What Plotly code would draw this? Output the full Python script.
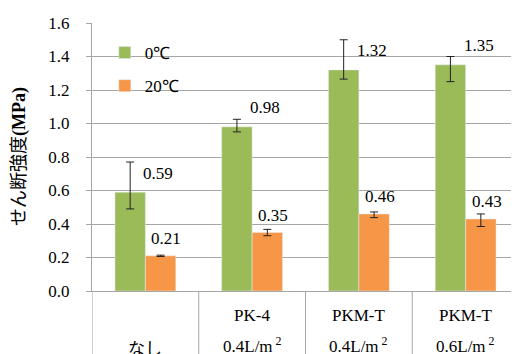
import plotly.graph_objects as go

categories = ["なし", "PK-4", "PKM-T 0.4", "PKM-T 0.6"]
label_line1 = ["", "PK-4", "PKM-T", "PKM-T"]
label_line2 = ["なし", "0.4L/m<sup> 2</sup>", "0.4L/m<sup> 2</sup>", "0.6L/m<sup> 2</sup>"]

s0_name = "0℃"
s0_values = [0.59, 0.98, 1.32, 1.35]
s0_err_plus = [0.18, 0.045, 0.18, 0.05]
s0_err_minus = [0.10, 0.03, 0.055, 0.10]

s1_name = "20℃"
s1_values = [0.21, 0.35, 0.46, 0.43]
s1_err_plus = [0.004, 0.018, 0.012, 0.03]
s1_err_minus = [0.004, 0.02, 0.022, 0.045]

y_ticks = [0.0, 0.2, 0.4, 0.6, 0.8, 1.0, 1.2, 1.4, 1.6]

GREEN = "#9BBB59"
ORANGE = "#F79646"
GRID = "#a6a6a6"
SERIF = "Liberation Serif"
xpos = list(range(len(categories)))

fig = go.Figure()
fig.add_trace(go.Bar(
    x=xpos, y=s0_values, name=s0_name, marker_color=GREEN, legendgroup="a",
    error_y=dict(type="data", symmetric=False, array=s0_err_plus, arrayminus=s0_err_minus,
                 color="#222", thickness=1, width=4),
))
fig.add_trace(go.Bar(
    x=xpos, y=s1_values, name=s1_name, marker_color=ORANGE, legendgroup="b",
    error_y=dict(type="data", symmetric=False, array=s1_err_plus, arrayminus=s1_err_minus,
                 color="#222", thickness=1, width=4),
))

ann = []
for i, v in enumerate(s0_values):
    ann.append(dict(x=i, y=v, xref="x", yref="y", text=f"{v:.2f}", showarrow=False,
                    xanchor="left", yanchor="middle", xshift=-4, yshift=19,
                    font=dict(family=SERIF, size=17, color="#000")))
for i, v in enumerate(s1_values):
    ann.append(dict(x=i, y=v, xref="x", yref="y", text=f"{v:.2f}", showarrow=False,
                    xanchor="left", yanchor="middle", xshift=4, yshift=17,
                    font=dict(family=SERIF, size=17, color="#000")))
for i in xpos:
    if label_line1[i]:
        ann.append(dict(x=i, y=0, xref="x", yref="y", text=label_line1[i], showarrow=False,
                        xanchor="center", yanchor="middle", yshift=-24,
                        font=dict(family=SERIF, size=17, color="#000")))
    ann.append(dict(x=i, y=0, xref="x", yref="y", text=label_line2[i], showarrow=False,
                    xanchor="center", yanchor="middle", yshift=-54 if label_line1[i] else -58,
                    font=dict(family=SERIF + ", Noto Sans CJK JP", size=17, color="#000")))
ann.append(dict(x=0, y=0.5, xref="paper", yref="paper", xshift=-75, textangle=-90,
                text="せん断強度<span style=\"font-family:'Liberation Serif'\"><b>(MPa)</b></span>",
                showarrow=False, xanchor="center", yanchor="middle",
                font=dict(family="Noto Sans CJK JP", size=18, color="#000")))

shapes = []
for i in xpos:
    shapes.append(dict(type="line", xref="x", yref="paper", x0=i - 0.5, x1=i - 0.5,
                       y0=0, y1=-0.3, line=dict(color=GRID, width=1)))

fig.update_layout(
    width=511, height=346,
    margin=dict(l=84, r=0, t=15, b=63),
    paper_bgcolor="white", plot_bgcolor="white",
    barmode="group", bargap=0.43, bargroupgap=0,
    showlegend=True,
    legend=dict(x=0.03, y=0.955, xanchor="left", yanchor="top", tracegroupgap=8,
                bgcolor="rgba(0,0,0,0)", font=dict(family=SERIF, size=17, color="#000")),
    annotations=ann, shapes=shapes,
    xaxis=dict(range=[-0.5, len(categories) - 0.5], showticklabels=False, showgrid=False,
               showline=True, linecolor=GRID, linewidth=1, ticks="", zeroline=False),
    yaxis=dict(range=[0, 1.6], tickvals=y_ticks, tickformat=".1f", showgrid=True,
               gridcolor=GRID, gridwidth=1, showline=True, linecolor=GRID, linewidth=1,
               ticks="outside", ticklen=5, tickcolor=GRID, ticklabelstandoff=13,
               zeroline=False, automargin=False, tickfont=dict(family=SERIF, size=17, color="#000")),
)

fig.write_html("out.html")
